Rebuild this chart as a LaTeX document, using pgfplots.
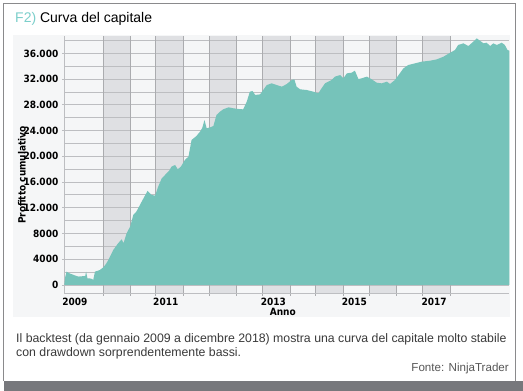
\documentclass[border=0pt]{standalone}
\usepackage{fontspec}
\setmainfont{Liberation Sans}
\newfontfamily\tickfont{DejaVu Sans Condensed Bold}
\usepackage{graphicx}
\usepackage{pgfplots}
\pgfplotsset{compat=1.18}
\definecolor{teal1}{HTML}{76C3BA}
\definecolor{bandgray}{HTML}{DFE0E3}
\definecolor{bggray}{HTML}{F5F6F7}
\definecolor{gridgray}{HTML}{BDBEC1}
\definecolor{edgegray}{HTML}{ABACAF}
\definecolor{framegray}{HTML}{8A8A8C}
\definecolor{bargray}{HTML}{77787C}
\definecolor{titleteal}{HTML}{7CCFCB}
\definecolor{captext}{HTML}{3A3A3A}
\begin{document}
\begin{tikzpicture}[x=1pt,y=1pt]
\useasboundingbox (0,0) rectangle (523,391);
\fill[white] (0,0) rectangle (523,391);
\fill[bargray] (3.5,0) rectangle (523,10);
\draw[framegray, line width=0.9pt] (3.5,10) -- (3.5,388) -- (515.5,388) -- (515.5,10);
\fill[bggray] (13,74) rectangle (510,356);
\node[anchor=base west, inner sep=0, font=\fontsize{14}{16}\selectfont] at (15,368) {\textcolor{titleteal}{F2)} Curva del capitale};
\node[anchor=base west, inner sep=0, font=\fontsize{12.3}{14}\selectfont, text=captext] at (16,48) {Il backtest (da gennaio 2009 a dicembre 2018) mostra una curva del capitale molto stabile};
\node[anchor=base west, inner sep=0, font=\fontsize{12.3}{14}\selectfont, text=captext] at (16,34) {con drawdown sorprendentemente bassi.};
\node[anchor=base east, inner sep=0, font=\fontsize{11.6}{13}\selectfont, text=captext!85] at (509,19) {Fonte: NinjaTrader};
\node[inner sep=0, font=\fontsize{10}{12}\tickfont] at (22,216) {\rotatebox{90}{Profitto cumulativo}};
\begin{axis}[
  at={(64.3pt,97.7pt)}, anchor=south west,
  scale only axis, width=445pt, height=257.3pt,
  xmin=2009, xmax=2019, ymin=-1300, ymax=38700,
  scaled ticks=false,
  axis x line*=bottom, axis y line*=left,
  axis line style={gridgray, line width=0.8pt},
  xtick={2009.876,2010.476,2011.054,2011.674,2012.258,2012.874,2013.449,2014.072,2014.649,2015.270,2015.854,2016.470,2017.054,2017.667},
  xticklabels={},
  extra x ticks={2009.24,2011.28,2013.70,2015.52,2017.31},
  extra x tick labels={2009,2011,2013,2015,2017},
  extra x tick style={major tick length=0pt},
  xtick style={edgegray, line width=0.8pt}, major tick length=2.5pt, tick align=outside,
  ytick={0,4000,8000,12000,16000,20000,24000,28000,32000,36000},
  yticklabels={0,4000,8000,12.000,16.000,20.000,24.000,28.000,32.000,36.000},
  ytick style={gridgray, line width=0.8pt},
  tick label style={font=\fontsize{10}{12}\tickfont, text=black},
  xticklabel style={anchor=base, yshift=-12.2pt},
  xlabel={Anno},
  xlabel style={font=\fontsize{10}{12}\tickfont, at={(axis description cs:0.491,-0.073)}, anchor=center},
  axis background/.style={fill=bggray},
  clip=true,
]
% shaded bands
\addplot[fill=bandgray, draw=none, forget plot] coordinates {(2009.876,-1300) (2009.876,38700) (2010.476,38700) (2010.476,-1300)} -- cycle;
\addplot[fill=bandgray, draw=none, forget plot] coordinates {(2011.054,-1300) (2011.054,38700) (2011.674,38700) (2011.674,-1300)} -- cycle;
\addplot[fill=bandgray, draw=none, forget plot] coordinates {(2012.258,-1300) (2012.258,38700) (2012.874,38700) (2012.874,-1300)} -- cycle;
\addplot[fill=bandgray, draw=none, forget plot] coordinates {(2013.449,-1300) (2013.449,38700) (2014.072,38700) (2014.072,-1300)} -- cycle;
\addplot[fill=bandgray, draw=none, forget plot] coordinates {(2014.649,-1300) (2014.649,38700) (2015.270,38700) (2015.270,-1300)} -- cycle;
\addplot[fill=bandgray, draw=none, forget plot] coordinates {(2015.854,-1300) (2015.854,38700) (2016.470,38700) (2016.470,-1300)} -- cycle;
\addplot[fill=bandgray, draw=none, forget plot] coordinates {(2017.054,-1300) (2017.054,38700) (2017.667,38700) (2017.667,-1300)} -- cycle;
% horizontal grid lines every 2000 (above bands, below the curve)
\addplot[xcomb, gridgray, line width=0.8pt, no markers, forget plot] coordinates {
(2019,0) (2019,2000) (2019,4000) (2019,6000) (2019,8000) (2019,10000) (2019,12000) (2019,14000) (2019,16000) (2019,18000)
(2019,20000) (2019,22000) (2019,24000) (2019,26000) (2019,28000) (2019,30000) (2019,32000) (2019,34000) (2019,36000) (2019,38000)};
% vertical lines at band edges
\addplot[ycomb, edgegray, line width=0.8pt, no markers, forget plot] coordinates {
(2009.876,38700) (2010.476,38700) (2011.054,38700) (2011.674,38700) (2012.258,38700) (2012.874,38700) (2013.449,38700)
(2014.072,38700) (2014.649,38700) (2015.270,38700) (2015.854,38700) (2016.470,38700) (2017.054,38700) (2017.667,38700)};
\addplot[ycomb, edgegray, line width=0.8pt, no markers, forget plot] coordinates {
(2009.876,-1300) (2010.476,-1300) (2011.054,-1300) (2011.674,-1300) (2012.258,-1300) (2012.874,-1300) (2013.449,-1300)
(2014.072,-1300) (2014.649,-1300) (2015.270,-1300) (2015.854,-1300) (2016.470,-1300) (2017.054,-1300) (2017.667,-1300)};
% equity curve
\addplot[fill=teal1, draw=none] coordinates {
(2009.00,0) (2009.02,1200) (2009.05,2070) (2009.10,1850) (2009.17,1660) (2009.25,1450) (2009.32,1300)
(2009.40,1350) (2009.47,1400) (2009.49,2070) (2009.52,1040) (2009.58,1000) (2009.62,930) (2009.65,780)
(2009.69,2070) (2009.75,2200) (2009.80,2330) (2009.88,2750) (2009.94,3300) (2009.99,3890)
(2010.05,4700) (2010.10,5440) (2010.16,6000) (2010.21,6480) (2010.29,7100) (2010.33,6480) (2010.40,8030)
(2010.48,9070) (2010.55,10880) (2010.61,11300) (2010.66,11910) (2010.72,12700) (2010.78,13470) (2010.87,14610)
(2010.96,13990) (2011.04,13880) (2011.11,15280) (2011.19,16580) (2011.30,17350) (2011.36,17800) (2011.41,18390)
(2011.49,18650) (2011.55,17980) (2011.62,18390) (2011.71,19430) (2011.79,19940) (2011.86,22530)
(2011.97,23160) (2012.05,23830) (2012.10,24400) (2012.15,25640) (2012.20,24350) (2012.28,24500) (2012.35,24710)
(2012.42,26420) (2012.50,26940) (2012.57,27300) (2012.69,27610) (2012.80,27460) (2012.92,27350) (2013.02,27300)
(2013.10,28490) (2013.17,30040) (2013.23,30150) (2013.29,29530) (2013.40,29630) (2013.47,30300)
(2013.55,31080) (2013.66,31340) (2013.77,31080) (2013.89,30820) (2014.00,31240) (2014.11,31860)
(2014.17,31960) (2014.22,30820) (2014.30,30410) (2014.45,30300) (2014.60,30040) (2014.71,29790)
(2014.78,30560) (2014.86,31340) (2014.93,31600) (2015.01,31860) (2015.08,32380) (2015.20,32630)
(2015.27,32120) (2015.35,32890) (2015.46,33000) (2015.53,33310) (2015.61,32000) (2015.68,32120)
(2015.80,32380) (2015.91,31960) (2016.02,31440) (2016.13,31340) (2016.25,31600) (2016.32,31240)
(2016.43,31860) (2016.54,32890) (2016.62,33670) (2016.73,34190) (2016.88,34450) (2017.03,34710)
(2017.22,34860) (2017.37,35070) (2017.52,35480) (2017.67,36100) (2017.78,36520) (2017.85,37300)
(2017.97,37560) (2018.08,37140) (2018.19,37810) (2018.27,38330) (2018.34,37970) (2018.42,37560)
(2018.49,37660) (2018.57,37140) (2018.64,37560) (2018.72,37300) (2018.83,37660) (2018.90,37300)
(2018.96,36520) (2019.00,36420) (2019.00,0)
} -- cycle;
\end{axis}
\end{tikzpicture}
\end{document}
